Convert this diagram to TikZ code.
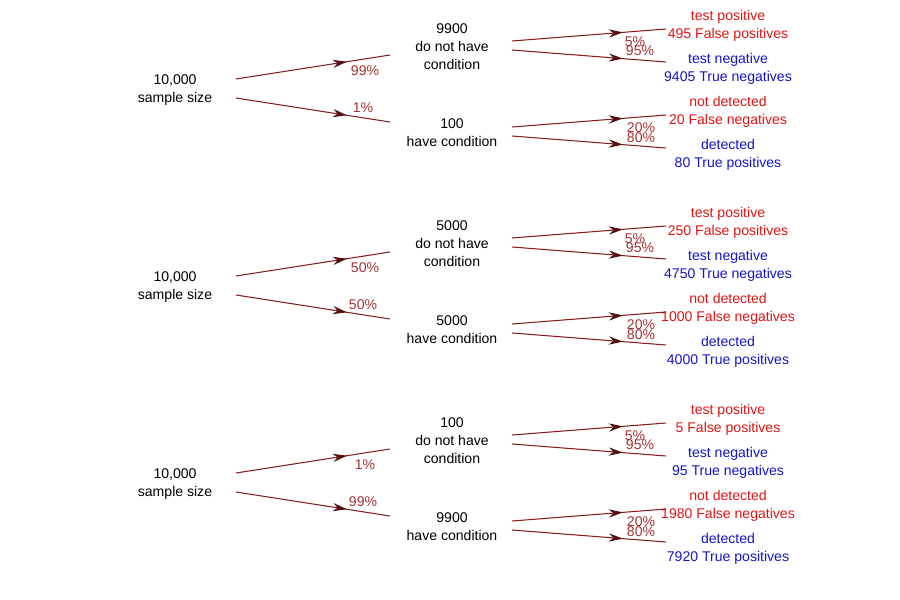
\documentclass[tikz,border=0pt]{standalone}
\usepackage{fontspec}
\setmainfont{Liberation Sans}
\usetikzlibrary{arrows.meta,decorations.markings}
\definecolor{branchred}{RGB}{135,28,32}
\definecolor{pctred}{RGB}{165,50,50}
\definecolor{leafred}{RGB}{225,20,20}
\definecolor{leafblue}{RGB}{20,20,205}
\tikzset{
  branch/.style={branchred,line width=0.9pt,postaction={decorate},
    decoration={markings,mark=at position 0.72 with {\arrow[black!40!branchred]{Stealth[length=12pt,width=7pt,inset=4pt]}}}},
  textbox/.style={align=center,font=\fontsize{12}{15.4}\selectfont},
  pctlabel/.style={textbox,pctred},
  falsebox/.style={textbox,leafred},
  truebox/.style={textbox,leafblue}
}
\begin{document}
\begin{tikzpicture}[x=0.03cm,y=-0.03cm]
    \useasboundingbox (0,0) rectangle (900,600);
    \foreach \dy/\pa/\pb/\na/\nb/\fp/\tn/\fn/\tp [count=\t] in
      {0/99/1/9900/100/495/9405/20/80,
       197/50/50/5000/5000/250/4750/1000/4000,
       394/1/99/100/9900/5/95/1980/7920}{
        % sample
        \node[textbox] (root\t) at (175,90+\dy) {10,000\\sample size};
        % condition
        \node[textbox] (no\t) at (452,47+\dy) {\na\\do not have\\condition};
        \node[textbox] (yes\t) at (452,133+\dy) {\nb\\have condition};
        % test results
        \node[falsebox] (fp\t) at (728,26+\dy) {test positive\\\fp{} False positives};
        \node[truebox] (tn\t) at (728,69+\dy) {test negative\\\tn{} True negatives};
        \node[falsebox] (fn\t) at (728,112+\dy) {not detected\\\fn{} False negatives};
        \node[truebox] (tp\t) at (728,155+\dy) {detected\\\tp{} True positives};
        \draw[branch] ([shift={(61,-11)}]root\t.center) -- ([shift={(-62,8)}]no\t.center);
        \draw[branch] ([shift={(61,8)}]root\t.center) -- ([shift={(-62,-11)}]yes\t.center);
        \draw[branch] ([shift={(60,-6)}]no\t.center) -- ([shift={(-62,3)}]fp\t.center);
        \draw[branch] ([shift={(60,3)}]no\t.center) -- ([shift={(-62,-7)}]tn\t.center);
        \draw[branch] ([shift={(60,-6)}]yes\t.center) -- ([shift={(-62,3)}]fn\t.center);
        \draw[branch] ([shift={(60,3)}]yes\t.center) -- ([shift={(-62,-7)}]tp\t.center);
        \node[pctlabel] (pa\t) at (365,71+\dy) {\pa\%};
        \node[pctlabel] (pb\t) at (363,108+\dy) {\pb\%};
        \node[pctlabel] (p5\t) at (635,42+\dy) {5\%};
        \node[pctlabel] (p95\t) at (640,51+\dy) {95\%};
        \node[pctlabel] (p20\t) at (641,128+\dy) {20\%};
        \node[pctlabel] (p80\t) at (641,138+\dy) {80\%};
    }
\end{tikzpicture}
\end{document}
